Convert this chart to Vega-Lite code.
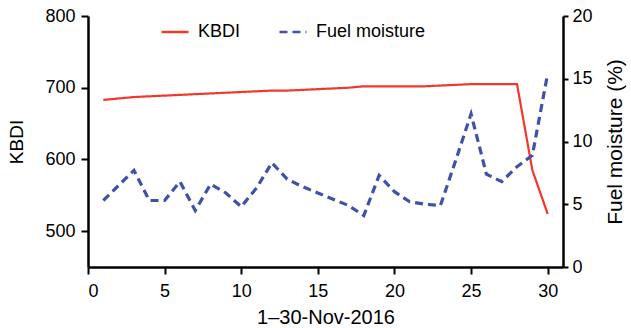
{
  "$schema": "https://vega.github.io/schema/vega-lite/v6.json",
  "width": 475,
  "height": 251,
  "autosize": {"type": "none"},
  "padding": {"left": 88, "top": 16, "right": 68, "bottom": 61},
  "background": "white",
  "config": {
    "view": {"stroke": null},
    "font": "Liberation Sans",
    "axis": {
      "grid": false,
      "domainColor": "black",
      "domainWidth": 2.5,
      "tickColor": "black",
      "tickWidth": 2,
      "tickSize": 7,
      "labelFont": "Liberation Sans",
      "labelFontSize": 18,
      "labelColor": "black",
      "titleFont": "Liberation Sans",
      "titleFontSize": 19,
      "titleFontWeight": "normal",
      "titleColor": "black"
    },
    "legend": {
      "labelFont": "Liberation Sans",
      "labelFontSize": 18,
      "labelColor": "black"
    }
  },
  "data": {
    "values": [
      {"day": 1, "series": "KBDI", "value": 683},
      {"day": 2, "series": "KBDI", "value": 685},
      {"day": 3, "series": "KBDI", "value": 687},
      {"day": 4, "series": "KBDI", "value": 688},
      {"day": 5, "series": "KBDI", "value": 689},
      {"day": 6, "series": "KBDI", "value": 690},
      {"day": 7, "series": "KBDI", "value": 691},
      {"day": 8, "series": "KBDI", "value": 692},
      {"day": 9, "series": "KBDI", "value": 693},
      {"day": 10, "series": "KBDI", "value": 694},
      {"day": 11, "series": "KBDI", "value": 695},
      {"day": 12, "series": "KBDI", "value": 696},
      {"day": 13, "series": "KBDI", "value": 696},
      {"day": 14, "series": "KBDI", "value": 697},
      {"day": 15, "series": "KBDI", "value": 698},
      {"day": 16, "series": "KBDI", "value": 699},
      {"day": 17, "series": "KBDI", "value": 700},
      {"day": 18, "series": "KBDI", "value": 702},
      {"day": 19, "series": "KBDI", "value": 702},
      {"day": 20, "series": "KBDI", "value": 702},
      {"day": 21, "series": "KBDI", "value": 702},
      {"day": 22, "series": "KBDI", "value": 702},
      {"day": 23, "series": "KBDI", "value": 703},
      {"day": 24, "series": "KBDI", "value": 704},
      {"day": 25, "series": "KBDI", "value": 705},
      {"day": 26, "series": "KBDI", "value": 705},
      {"day": 27, "series": "KBDI", "value": 705},
      {"day": 28, "series": "KBDI", "value": 705},
      {"day": 29, "series": "KBDI", "value": 585},
      {"day": 30, "series": "KBDI", "value": 524},
      {"day": 1, "series": "Fuel moisture", "value": 5.3},
      {"day": 2, "series": "Fuel moisture", "value": 6.5},
      {"day": 3, "series": "Fuel moisture", "value": 7.7},
      {"day": 4, "series": "Fuel moisture", "value": 5.3},
      {"day": 5, "series": "Fuel moisture", "value": 5.3},
      {"day": 6, "series": "Fuel moisture", "value": 6.8},
      {"day": 7, "series": "Fuel moisture", "value": 4.5},
      {"day": 8, "series": "Fuel moisture", "value": 6.6},
      {"day": 9, "series": "Fuel moisture", "value": 5.9},
      {"day": 10, "series": "Fuel moisture", "value": 4.8},
      {"day": 11, "series": "Fuel moisture", "value": 6.3},
      {"day": 12, "series": "Fuel moisture", "value": 8.3},
      {"day": 13, "series": "Fuel moisture", "value": 7.0},
      {"day": 14, "series": "Fuel moisture", "value": 6.4},
      {"day": 15, "series": "Fuel moisture", "value": 5.9},
      {"day": 16, "series": "Fuel moisture", "value": 5.4},
      {"day": 17, "series": "Fuel moisture", "value": 4.9},
      {"day": 18, "series": "Fuel moisture", "value": 4.1},
      {"day": 19, "series": "Fuel moisture", "value": 7.3},
      {"day": 20, "series": "Fuel moisture", "value": 6.0},
      {"day": 21, "series": "Fuel moisture", "value": 5.2},
      {"day": 22, "series": "Fuel moisture", "value": 5.0},
      {"day": 23, "series": "Fuel moisture", "value": 4.9},
      {"day": 24, "series": "Fuel moisture", "value": 8.5},
      {"day": 25, "series": "Fuel moisture", "value": 12.2},
      {"day": 26, "series": "Fuel moisture", "value": 7.4},
      {"day": 27, "series": "Fuel moisture", "value": 6.8},
      {"day": 28, "series": "Fuel moisture", "value": 8.0},
      {"day": 29, "series": "Fuel moisture", "value": 8.9},
      {"day": 30, "series": "Fuel moisture", "value": 15.4}
    ]
  },
  "encoding": {
    "x": {
      "field": "day",
      "type": "quantitative",
      "scale": {"domain": [0, 31], "nice": false, "zero": false},
      "axis": {"values": [0, 5, 10, 15, 20, 25, 30], "title": "1–30-Nov-2016", "labelPadding": 8, "titlePadding": 7, "titleFontSize": 20}
    },
    "color": {
      "field": "series",
      "type": "nominal",
      "scale": {"domain": ["KBDI", "Fuel moisture"], "range": ["#f2372b", "#3f51a8"]},
      "legend": {
        "title": null,
        "orient": "none",
        "legendX": 72,
        "legendY": 1,
        "direction": "horizontal",
        "symbolType": "stroke",
        "symbolSize": 729,
        "symbolStrokeWidth": 2.6,
        "labelOffset": 8,
        "columnPadding": 33,
        "padding": 0
      }
    },
    "strokeDash": {
      "field": "series",
      "type": "nominal",
      "scale": {"domain": ["KBDI", "Fuel moisture"], "range": [[1, 0], [8, 5]]},
      "legend": {
        "title": null,
        "orient": "none",
        "legendX": 72,
        "legendY": 1,
        "direction": "horizontal",
        "symbolType": "stroke",
        "symbolSize": 729,
        "symbolStrokeWidth": 2.6,
        "labelOffset": 8,
        "columnPadding": 33,
        "padding": 0
      }
    }
  },
  "layer": [
    {
      "transform": [{"filter": "datum.series === 'KBDI'"}],
      "mark": {"type": "line", "strokeWidth": 2.2},
      "encoding": {
        "y": {
          "field": "value",
          "type": "quantitative",
          "scale": {"domain": [450, 800], "nice": false, "zero": false},
          "axis": {"orient": "left", "values": [500, 600, 700, 800], "title": "KBDI", "labelPadding": 6, "titlePadding": 18}
        }
      }
    },
    {
      "transform": [{"filter": "datum.series === 'Fuel moisture'"}],
      "mark": {"type": "line", "strokeWidth": 3.2},
      "encoding": {
        "y": {
          "field": "value",
          "type": "quantitative",
          "scale": {"domain": [0, 20], "nice": false, "zero": true},
          "axis": {"orient": "right", "values": [0, 5, 10, 15, 20], "title": "Fuel moisture (%)", "titleAngle": 270, "titleBaseline": "top", "tickSize": 5, "labelPadding": 4, "titlePadding": 12, "titleFontSize": 21}
        }
      }
    }
  ],
  "resolve": {"scale": {"y": "independent"}, "axis": {"y": "independent"}}
}
